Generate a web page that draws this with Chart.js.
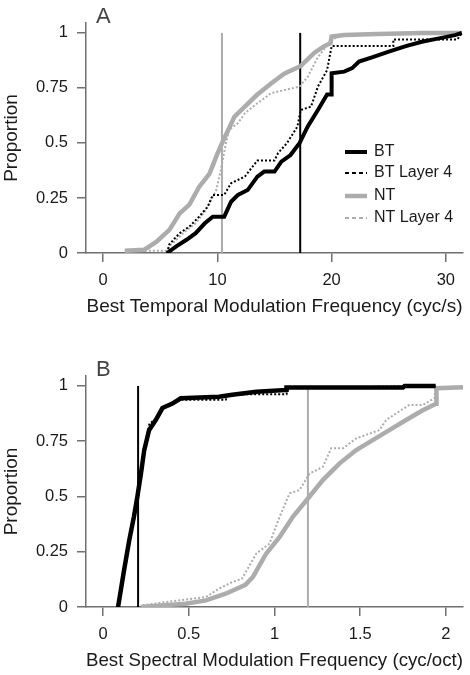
<!DOCTYPE html>
<html>
<head>
<meta charset="utf-8">
<script src="https://cdn.jsdelivr.net/npm/chart.js@4.4.0/dist/chart.umd.min.js"></script>
<style>
  body { margin: 0; background: #fff; }
  #wrapA { position: absolute; left: 0; top: 0; }
  #wrapB { position: absolute; left: 0; top: 353px; }
</style>
</head>
<body>
<div id="wrapA"><canvas id="chartA" width="470" height="318"></canvas></div>
<div id="wrapB"><canvas id="chartB" width="470" height="319"></canvas></div>
<script>
// Panel A - temporal modulation (cyc/s)
const btAx = [5.6, 6.4, 7.3, 8.1, 8.9, 9.6, 10.6, 11.2, 11.8, 12.65, 13.5, 14.1, 15.0, 15.6, 16.4, 17.2, 17.9, 18.8, 19.6, 20.0, 20.0, 21.1, 21.8, 22.4, 23.6, 25.0, 26.5, 27.9, 29.4, 30.8, 31.4];
const btAy = [0.0, 0.03, 0.06, 0.09, 0.135, 0.165, 0.165, 0.233, 0.264, 0.286, 0.347, 0.37, 0.37, 0.415, 0.445, 0.50, 0.574, 0.65, 0.72, 0.72, 0.817, 0.824, 0.84, 0.87, 0.89, 0.915, 0.94, 0.96, 0.975, 0.99, 1.0];
const btL4Ax = [5.6, 5.8, 6.7, 7.55, 8.4, 9.15, 9.6, 10.6, 11.2, 12.4, 13.5, 15.0, 15.3, 16.1, 17.0, 17.3, 18.2, 18.8, 19.6, 20.0, 25.4, 25.4, 31.0, 31.4];
const btL4Ay = [0.0, 0.04, 0.09, 0.12, 0.165, 0.21, 0.264, 0.264, 0.317, 0.347, 0.42, 0.42, 0.453, 0.50, 0.574, 0.65, 0.665, 0.756, 0.83, 0.94, 0.94, 0.97, 0.97, 1.0];
const ntAx = [1.9, 3.6, 4.65, 5.8, 6.7, 7.55, 8.4, 9.3, 10.0, 10.5, 11.05, 11.5, 12.4, 13.5, 14.7, 15.85, 17.3, 18.5, 19.35, 19.9, 20.0, 21.1, 24.0, 28.0, 31.4];
const ntAy = [0.01, 0.015, 0.05, 0.105, 0.18, 0.22, 0.30, 0.36, 0.45, 0.51, 0.57, 0.62, 0.665, 0.72, 0.77, 0.815, 0.85, 0.91, 0.94, 0.953, 0.983, 0.99, 0.995, 0.999, 1.0];
const ntL4Ax = [1.9, 5.5, 5.8, 7.0, 8.1, 9.0, 9.9, 10.3, 10.75, 11.05, 11.8, 12.4, 13.5, 14.7, 15.85, 17.2, 17.9, 18.8, 19.4, 20.0, 21.0, 31.4];
const ntL4Ay = [0.01, 0.01, 0.03, 0.09, 0.135, 0.195, 0.286, 0.377, 0.50, 0.56, 0.59, 0.635, 0.68, 0.726, 0.74, 0.756, 0.80, 0.89, 0.93, 0.97, 0.99, 1.0];
const medianA = { bt: 17.25, nt: 10.4 };
const xTicksA = [0, 10, 20, 30];

// Panel B - spectral modulation (cyc/oct)
const btBx = [0.087, 0.122, 0.152, 0.18, 0.20, 0.22, 0.24, 0.268, 0.307, 0.346, 0.404, 0.453, 0.676, 0.754, 0.894, 1.07, 1.07, 1.75, 1.76, 1.94];
const btBy = [0.0, 0.166, 0.30, 0.41, 0.50, 0.60, 0.71, 0.80, 0.846, 0.90, 0.92, 0.944, 0.951, 0.96, 0.974, 0.982, 0.993, 0.993, 1.0, 1.0];
const btL4Bx = [0.09, 0.125, 0.155, 0.185, 0.205, 0.225, 0.245, 0.27, 0.31, 0.35, 0.40, 0.45, 0.715, 0.73, 0.894, 1.07, 1.08, 1.94];
const btL4By = [0.0, 0.17, 0.31, 0.41, 0.50, 0.61, 0.72, 0.83, 0.85, 0.905, 0.915, 0.937, 0.937, 0.96, 0.963, 0.963, 0.99, 1.0];
const ntBx = [0.22, 0.48, 0.6, 0.715, 0.83, 0.874, 0.952, 1.03, 1.107, 1.195, 1.282, 1.38, 1.477, 1.573, 1.67, 1.768, 1.865, 1.943, 1.945, 2.1];
const ntBy = [0.0, 0.015, 0.03, 0.06, 0.10, 0.136, 0.242, 0.317, 0.408, 0.491, 0.574, 0.65, 0.71, 0.755, 0.80, 0.846, 0.89, 0.92, 0.99, 0.994];
const ntL4Bx = [0.23, 0.443, 0.6, 0.676, 0.754, 0.81, 0.894, 0.971, 1.03, 1.088, 1.146, 1.205, 1.282, 1.331, 1.40, 1.477, 1.612, 1.652, 1.71, 1.787, 1.865, 1.933, 1.94];
const ntL4By = [0.008, 0.03, 0.045, 0.083, 0.113, 0.128, 0.242, 0.287, 0.408, 0.514, 0.529, 0.604, 0.634, 0.718, 0.718, 0.763, 0.80, 0.846, 0.876, 0.914, 0.914, 0.944, 0.99];
const medianB = { bt: 0.204, nt: 1.195 };
const xTicksB = [0, 0.5, 1, 1.5, 2];

const yTicks = [0, 0.25, 0.5, 0.75, 1];
const legendLabels = ['BT', 'BT Layer 4', 'NT', 'NT Layer 4'];

const FONT = "'Liberation Sans', Arial, sans-serif";
const GRAY = '#acacac';
const AXIS = '#707070';

function pts(xs, ys) {
  return xs.map((x, i) => ({ x: x, y: ys[i] }));
}

function curve(label, xs, ys, color, width, dash) {
  return {
    label: label,
    data: pts(xs, ys),
    showLine: true,
    borderColor: color,
    borderWidth: width,
    borderDash: dash || [],
    pointRadius: 0,
    tension: 0,
    fill: false
  };
}

function vline(x, color) {
  return {
    label: '',
    data: [{ x: x, y: 0 }, { x: x, y: 1 }],
    showLine: true,
    borderColor: color,
    borderWidth: 2,
    pointRadius: 0
  };
}

// panel letter plus optional legend, drawn on the canvas
const extras = {
  id: 'extras',
  afterDraw(chart, args, opts) {
    const ctx = chart.ctx;
    ctx.save();
    ctx.fillStyle = '#444';
    ctx.font = '22px ' + FONT;
    ctx.textBaseline = 'alphabetic';
    ctx.fillText(opts.letter, 96, 23);
    if (opts.legend) {
      const rows = [152, 173, 196, 218];
      ctx.font = '16px ' + FONT;
      ctx.textBaseline = 'middle';
      legendLabels.forEach((lab, i) => {
        const ds = chart.data.datasets[i];
        ctx.strokeStyle = ds.borderColor;
        ctx.lineWidth = ds.borderWidth;
        ctx.setLineDash(ds.borderDash.length ? [4, 3] : []);
        ctx.beginPath();
        ctx.moveTo(345, rows[i]);
        ctx.lineTo(367, rows[i]);
        ctx.stroke();
        ctx.setLineDash([]);
        ctx.fillStyle = '#1a1a1a';
        ctx.fillText(lab, 374, rows[i]);
      });
    }
    ctx.restore();
  }
};

function makeChart(id, sets, xMin, xMax, xTicks, xTitle, letter, legend) {
  return new Chart(document.getElementById(id), {
    type: 'scatter',
    data: { datasets: sets },
    options: {
      responsive: false,
      animation: false,
      layout: { padding: { top: 23, right: 7, left: 0, bottom: 0 } },
      plugins: {
        legend: { display: false },
        tooltip: { enabled: false },
        extras: { letter: letter, legend: legend }
      },
      scales: {
        x: {
          type: 'linear',
          min: xMin,
          max: xMax,
          afterBuildTicks: s => { s.ticks = xTicks.map(v => ({ value: v })); },
          afterFit: s => { s.height = 65; },
          grid: { drawOnChartArea: false, drawTicks: true, tickLength: 9, color: AXIS, lineWidth: 1.5 },
          border: { display: true, color: AXIS, width: 1.5 },
          ticks: { color: '#1a1a1a', font: { family: FONT, size: 16.5 }, padding: 9, maxRotation: 0, callback: v => String(v) },
          title: { display: true, text: xTitle, color: '#1a1a1a', font: { family: FONT, size: 19 }, padding: 0 }
        },
        y: {
          type: 'linear',
          min: 0,
          max: 1.045,
          afterBuildTicks: s => { s.ticks = yTicks.map(v => ({ value: v })); },
          afterFit: s => { s.width = 86; },
          grid: { drawOnChartArea: false, drawTicks: true, tickLength: 9, color: AXIS, lineWidth: 1.5 },
          border: { display: true, color: AXIS, width: 1.5 },
          ticks: { color: '#1a1a1a', font: { family: FONT, size: 16.5 }, padding: 9, callback: v => String(v) },
          title: { display: true, text: 'Proportion', color: '#1a1a1a', font: { family: FONT, size: 19 }, padding: 0 }
        }
      }
    },
    plugins: [extras]
  });
}

makeChart('chartA', [
  curve('BT', btAx, btAy, '#000', 4),
  curve('BT Layer 4', btL4Ax, btL4Ay, '#000', 2, [2, 2]),
  curve('NT', ntAx, ntAy, GRAY, 4.5),
  curve('NT Layer 4', ntL4Ax, ntL4Ay, GRAY, 2, [2, 2]),
  vline(medianA.bt, '#000'),
  vline(medianA.nt, GRAY)
], -1.5, 31.5, xTicksA, 'Best Temporal Modulation Frequency (cyc/s)', 'A', true);

makeChart('chartB', [
  curve('BT', btBx, btBy, '#000', 4.5),
  curve('BT Layer 4', btL4Bx, btL4By, '#000', 2, [2, 2]),
  curve('NT', ntBx, ntBy, GRAY, 4.5),
  curve('NT Layer 4', ntL4Bx, ntL4By, GRAY, 2, [2, 2]),
  vline(medianB.bt, '#000'),
  vline(medianB.nt, GRAY)
], -0.1, 2.1, xTicksB, 'Best Spectral Modulation Frequency (cyc/oct)', 'B', false);
</script>
</body>
</html>
